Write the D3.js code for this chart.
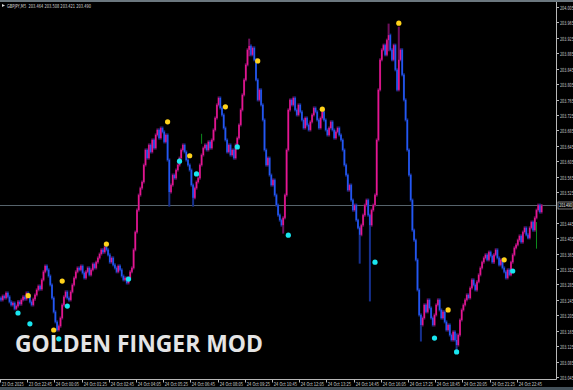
<!DOCTYPE html>
<html>
<head>
<meta charset="utf-8">
<script src="https://cdn.jsdelivr.net/npm/d3@7"></script>
<style>
  html, body { margin: 0; padding: 0; background: #000; }
  svg { display: block; }
</style>
</head>
<body>
<div id="chart"></div>
<script>
const width = 573;
const height = 390;

const symbolHeader = "GBPJPY,M5  203.464 203.508 203.421 203.490";
const watermark = "GOLDEN FINGER MOD";
const firstOpen = 203.250;
const lastPrice = 203.490;

// M5 closes, one per bar (23 Oct 21:25 ... 24 Oct 23:55)
const closes = [
  203.245, 203.255, 203.250, 203.263, 203.253, 203.240, 203.232, 203.237, 203.222, 203.229,
  203.240, 203.234, 203.245, 203.253, 203.247, 203.263, 203.255, 203.240, 203.232, 203.247,
  203.258, 203.271, 203.281, 203.273, 203.297, 203.318, 203.333, 203.323, 203.307, 203.284,
  203.250, 203.214, 203.188, 203.167, 203.177, 203.198, 203.232, 203.253, 203.266, 203.250,
  203.245, 203.266, 203.284, 203.302, 203.318, 203.328, 203.323, 203.333, 203.315, 203.302,
  203.318, 203.328, 203.310, 203.323, 203.338, 203.328, 203.343, 203.354, 203.364, 203.375,
  203.369, 203.382, 203.375, 203.362, 203.343, 203.354, 203.336, 203.328, 203.318, 203.333,
  203.323, 203.307, 203.297, 203.302, 203.289, 203.302, 203.318, 203.328, 203.375, 203.421,
  203.478, 203.517, 203.535, 203.551, 203.595, 203.634, 203.613, 203.647, 203.629, 203.660,
  203.639, 203.673, 203.686, 203.665, 203.691, 203.681, 203.655, 203.673, 203.608, 203.525,
  203.543, 203.569, 203.561, 203.582, 203.595, 203.613, 203.634, 203.647, 203.629, 203.608,
  203.595, 203.582, 203.543, 203.510, 203.535, 203.551, 203.561, 203.595, 203.621, 203.639,
  203.647, 203.634, 203.655, 203.639, 203.660, 203.686, 203.717, 203.751, 203.769, 203.743,
  203.725, 203.691, 203.660, 203.629, 203.647, 203.621, 203.634, 203.613, 203.647, 203.665,
  203.699, 203.738, 203.777, 203.816, 203.855, 203.894, 203.904, 203.881, 203.899, 203.868,
  203.816, 203.764, 203.790, 203.751, 203.712, 203.634, 203.595, 203.613, 203.569, 203.543,
  203.556, 203.517, 203.491, 203.465, 203.452, 203.439, 203.458, 203.517, 203.634, 203.738,
  203.764, 203.751, 203.769, 203.738, 203.725, 203.751, 203.733, 203.712, 203.691, 203.717,
  203.699, 203.686, 203.707, 203.725, 203.743, 203.733, 203.712, 203.691, 203.717, 203.733,
  203.712, 203.686, 203.673, 203.691, 203.707, 203.686, 203.665, 203.681, 203.691, 203.673,
  203.660, 203.634, 203.595, 203.569, 203.530, 203.543, 203.504, 203.478, 203.491, 203.452,
  203.432, 203.414, 203.439, 203.465, 203.491, 203.504, 203.465, 203.439, 203.478, 203.491,
  203.517, 203.660, 203.790, 203.868, 203.894, 203.906, 203.881, 203.919, 203.932, 203.894,
  203.868, 203.906, 203.842, 203.790, 203.868, 203.894, 203.829, 203.764, 203.712, 203.634,
  203.569, 203.504, 203.426, 203.400, 203.349, 203.271, 203.206, 203.180, 203.198, 203.232,
  203.214, 203.245, 203.224, 203.198, 203.180, 203.206, 203.232, 203.245, 203.219, 203.198,
  203.214, 203.188, 203.167, 203.180, 203.154, 203.141, 203.162, 203.141, 203.128, 203.154,
  203.193, 203.219, 203.232, 203.245, 203.258, 203.250, 203.276, 203.297, 203.284, 203.271,
  203.292, 203.310, 203.328, 203.343, 203.354, 203.362, 203.349, 203.369, 203.359, 203.343,
  203.362, 203.375, 203.354, 203.336, 203.349, 203.328, 203.318, 203.302, 203.323, 203.310,
  203.343, 203.362, 203.380, 203.388, 203.400, 203.411, 203.395, 203.421, 203.432, 203.414,
  203.406, 203.432, 203.447, 203.426, 203.458, 203.478, 203.491, 203.473, 203.490
];

// longer shadows: [bar, high, low]
const wicks = [
  [99, 203.608, 203.491], [113, 203.543, 203.491], [146, 203.919, 203.881],
  [166, 203.458, 203.421], [211, 203.432, 203.343], [217, 203.465, 203.245],
  [228, 203.958, 203.894], [234, 203.950, 203.790], [247, 203.206, 203.141],
  [268, 203.154, 203.115]
];
const greenWicks = [[118, 203.676, 203.650], [315, 203.447, 203.378]];

// indicator dots: [bar, price]
const sellSignals = [
  [16, 203.256], [31, 203.167], [36, 203.294], [62, 203.390], [98, 203.707],
  [111, 203.619], [132, 203.746], [151, 203.865], [189, 203.740], [234, 203.963],
  [263, 203.219], [296, 203.349]
];
const buySignals = [
  [10, 203.211], [17, 203.183], [34, 203.144], [39, 203.229], [75, 203.299],
  [105, 203.605], [115, 203.572], [139, 203.642], [169, 203.413], [220, 203.343],
  [255, 203.146], [268, 203.110], [301, 203.320]
];

const timeLabels = [
  "23 Oct 2025", "23 Oct 22:45", "24 Oct 00:05", "24 Oct 01:25", "24 Oct 02:45",
  "24 Oct 04:05", "24 Oct 05:25", "24 Oct 06:45", "24 Oct 08:05", "24 Oct 09:25",
  "24 Oct 10:45", "24 Oct 12:05", "24 Oct 13:25", "24 Oct 14:45", "24 Oct 16:05",
  "24 Oct 17:25", "24 Oct 18:45", "24 Oct 20:05", "24 Oct 21:25", "24 Oct 22:45"
];
const labelEvery = 16; // bars between time labels

const priceTicks = d3.range(0, 25).map((k) => +(204.005 - k * 0.04).toFixed(3));

const plotRight = 556;
const plotBottom = 379;
const smallFont = "DejaVu Sans, sans-serif";

const x = d3.scaleLinear().domain([0, closes.length - 1]).range([1, 541.6]);
const y = d3.scaleLinear().domain([203.045, 204.005]).range([377, 7]);

const svg = d3
  .select("#chart")
  .append("svg")
  .attr("width", width)
  .attr("height", height);

svg.append("rect").attr("width", width).attr("height", height).attr("fill", "#000");

// window strips
svg.append("rect").attr("x", 0).attr("y", 0).attr("width", width).attr("height", 2).attr("fill", "#6b777e");
svg.append("rect").attr("x", 0).attr("y", 387).attr("width", width).attr("height", 3).attr("fill", "#44515a");

// small terminal-style text squeezed horizontally to a target width
function smallText(parent, tx, ty, str, targetW, size, color) {
  const g = parent.append("g");
  const t = g
    .append("text")
    .attr("x", 0)
    .attr("y", 0)
    .attr("xml:space", "preserve")
    .style("font-family", smallFont)
    .style("font-size", size + "px")
    .attr("fill", color)
    .text(str);
  const natural = t.node().getComputedTextLength();
  const sx = Math.min(1, targetW / natural);
  g.attr("transform", `translate(${tx},${ty}) scale(${sx},1)`);
  return g;
}

// build bars
const bars = closes.map((c, i) => {
  const o = i === 0 ? firstOpen : closes[i - 1];
  let hi = Math.max(o, c);
  let lo = Math.min(o, c);
  const w = wicks.find((d) => d[0] === i);
  if (w) {
    hi = Math.max(hi, w[1]);
    lo = Math.min(lo, w[2]);
  }
  return { i, o, c, hi, lo, up: c >= o };
});

const plot = svg.append("g");

// current price line
plot
  .append("line")
  .attr("x1", 0)
  .attr("x2", plotRight)
  .attr("y1", Math.round(y(lastPrice)) + 0.5)
  .attr("y2", Math.round(y(lastPrice)) + 0.5)
  .attr("stroke", "#56636b")
  .attr("stroke-width", 1);

// shadows
plot
  .selectAll(".wick")
  .data(bars)
  .enter()
  .append("line")
  .attr("class", "wick")
  .attr("x1", (d) => x(d.i))
  .attr("x2", (d) => x(d.i))
  .attr("y1", (d) => y(d.hi) - 1.5)
  .attr("y2", (d) => y(d.lo) + 1.5)
  .attr("stroke", (d) => (d.up ? "#6e0f5c" : "#16308f"))
  .attr("stroke-width", 2);

plot
  .selectAll(".gwick")
  .data(greenWicks)
  .enter()
  .append("line")
  .attr("x1", (d) => x(d[0]))
  .attr("x2", (d) => x(d[0]))
  .attr("y1", (d) => y(d[1]))
  .attr("y2", (d) => y(d[2]))
  .attr("stroke", "#0c8a1c")
  .attr("stroke-width", 1);

// bodies
plot
  .selectAll(".body")
  .data(bars)
  .enter()
  .append("rect")
  .attr("class", "body")
  .attr("x", (d) => x(d.i) - 0.75)
  .attr("width", 1.5)
  .attr("y", (d) => y(Math.max(d.o, d.c)))
  .attr("height", (d) => Math.max(1, y(Math.min(d.o, d.c)) - y(Math.max(d.o, d.c))))
  .attr("fill", (d) => (d.up ? "#e8168e" : "#2358f2"));

// signal dots
plot
  .selectAll(".sell")
  .data(sellSignals)
  .enter()
  .append("circle")
  .attr("cx", (d) => x(d[0]))
  .attr("cy", (d) => y(d[1]))
  .attr("r", 2.6)
  .attr("fill", "#ffd21a");

plot
  .selectAll(".buy")
  .data(buySignals)
  .enter()
  .append("circle")
  .attr("cx", (d) => x(d[0]))
  .attr("cy", (d) => y(d[1]))
  .attr("r", 2.6)
  .attr("fill", "#19e6f0");

// frame
svg.append("line").attr("x1", plotRight + 0.5).attr("x2", plotRight + 0.5).attr("y1", 2).attr("y2", plotBottom + 0.5)
  .attr("stroke", "#b8b8b8").attr("stroke-width", 1);
svg.append("line").attr("x1", 0).attr("x2", plotRight + 0.5).attr("y1", plotBottom + 0.5).attr("y2", plotBottom + 0.5)
  .attr("stroke", "#b8b8b8").attr("stroke-width", 1);

// price scale
const curY = y(lastPrice);
const priceAxis = svg.append("g");
priceTicks
  .filter((p) => Math.abs(y(p) - curY) > 8)
  .forEach((p) => {
    const ty = Math.round(y(p)) + 0.5;
    priceAxis.append("line").attr("x1", plotRight + 1).attr("x2", plotRight + 3).attr("y1", ty).attr("y2", ty)
      .attr("stroke", "#b8b8b8");
    smallText(priceAxis, plotRight + 4, ty + 2, p.toFixed(3), 13.8, 5.6, "#cccccc");
  });

// current price tag
priceAxis.append("rect").attr("x", plotRight + 2).attr("y", curY - 3.5).attr("width", 15).attr("height", 7)
  .attr("fill", "#000").attr("stroke", "#a9a9a9").attr("stroke-width", 0.7);
smallText(priceAxis, plotRight + 3.3, curY + 2, lastPrice.toFixed(3), 12.5, 5.6, "#ffffff");

// time scale
const timeAxis = svg.append("g");
timeLabels.forEach((t, k) => {
  const tx = Math.round(x(k * labelEvery)) - 0.5;
  timeAxis.append("line").attr("x1", tx).attr("x2", tx).attr("y1", plotBottom + 1).attr("y2", plotBottom + 3.5)
    .attr("stroke", "#b8b8b8");
  smallText(timeAxis, tx + 1.2, 385.8, t, k === 0 ? 22 : 23.5, 5.4, "#cccccc");
});

// header
svg.append("path").attr("d", "M2,4 L5,5.5 L2,7 Z").attr("fill", "#d8d8d8");
smallText(svg, 7, 7.5, symbolHeader, 84, 5.4, "#d4d4d4");

// watermark
svg.append("text").attr("x", 15).attr("y", 352)
  .style("font-family", "Open Sans, Noto Sans, sans-serif").style("font-weight", "bold").style("font-size", "23.5px")
  .attr("fill", "#e4e4e4").attr("textLength", 248).attr("lengthAdjust", "spacingAndGlyphs").text(watermark);
</script>
</body>
</html>
